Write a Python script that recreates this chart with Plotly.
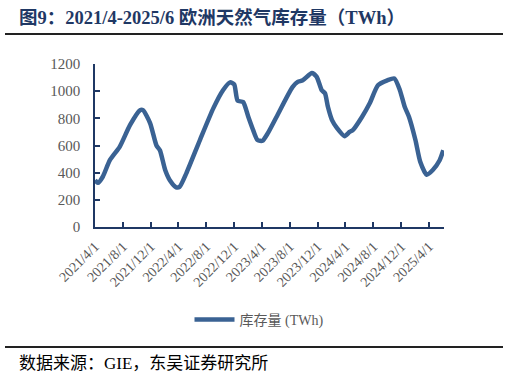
import plotly.graph_objects as go

dates = [
    "2021-04-01", "2021-04-14", "2021-05-05", "2021-06-05", "2021-07-18", "2021-09-01",
    "2021-10-15", "2021-10-28", "2021-11-28", "2021-12-26", "2022-01-10", "2022-02-02",
    "2022-02-24", "2022-03-22", "2022-04-06", "2022-05-06", "2022-07-04", "2022-09-01",
    "2022-10-13", "2022-11-13", "2022-12-01", "2022-12-16", "2023-01-09", "2023-02-01",
    "2023-02-22", "2023-03-13", "2023-04-04", "2023-04-27", "2023-06-04", "2023-08-13",
    "2023-09-05", "2023-09-27", "2023-11-06", "2023-11-27", "2023-12-19", "2024-01-02",
    "2024-01-15", "2024-02-02", "2024-02-24", "2024-03-28", "2024-04-19", "2024-05-03",
    "2024-06-12", "2024-07-16", "2024-08-21", "2024-10-01", "2024-11-01", "2024-11-25",
    "2024-12-16", "2025-01-04", "2025-02-01", "2025-02-22", "2025-03-22", "2025-04-18",
    "2025-05-18", "2025-06-03",
]
storage = [
    345, 325, 370, 492, 590, 750,
    860, 860, 765, 600, 565, 420,
    340, 292, 295, 397, 640, 875,
    1007, 1065, 1050, 930, 920, 810,
    713, 640, 635, 690, 810, 1030,
    1068, 1080, 1134, 1105, 1007, 985,
    885, 787, 728, 669, 700, 713,
    810, 911, 1044, 1080, 1093, 1007,
    885, 810, 640, 480, 385, 420,
    492, 565,
]
tick_vals = ["2021-04-01", "2021-08-01", "2021-12-01", "2022-04-01", "2022-08-01",
             "2022-12-01", "2023-04-01", "2023-08-01", "2023-12-01", "2024-04-01",
             "2024-08-01", "2024-12-01", "2025-04-01"]
tick_text = ["2021/4/1", "2021/8/1", "2021/12/1", "2022/4/1", "2022/8/1",
             "2022/12/1", "2023/4/1", "2023/8/1", "2023/12/1", "2024/4/1",
             "2024/8/1", "2024/12/1", "2025/4/1"]

W, H = 509, 382
L, R, T, B = 95, 65, 64, 155
pw, ph = W - L - R, H - T - B

def px(x):
    return (x - L) / pw

def py(y):
    return (H - B - y) / ph

serif = "Liberation Serif, Noto Sans CJK SC, serif"
axis_col = "#1F3864"
line_col = "#3A6293"

fig = go.Figure()
fig.add_trace(go.Scatter(
    x=dates, y=storage, mode="lines", name="库存量 (TWh)",
    line=dict(color=line_col, width=4.5, shape="spline", smoothing=0.6),
))

fig.update_layout(
    width=W, height=H,
    margin=dict(l=L, r=R, t=T, b=B, autoexpand=False),
    paper_bgcolor="white", plot_bgcolor="white",
    showlegend=True,
    legend=dict(orientation="h", x=px(259), xanchor="center", y=py(320), yanchor="middle",
                font=dict(family=serif, size=14, color="#595959"), itemwidth=40),
    xaxis=dict(
        type="date", range=["2021-04-01", "2025-06-06"], automargin=False,
        tickvals=tick_vals, ticktext=tick_text, tickangle=-45,
        showgrid=False, zeroline=False,
        showline=True, linecolor=axis_col, linewidth=1.5,
        ticks="inside", ticklen=5, tickcolor=axis_col, tickwidth=1.5,
        ticklabelstandoff=4,
        tickfont=dict(family=serif, size=14, color="#595959"),
    ),
    yaxis=dict(
        range=[0, 1200], tickvals=[0, 200, 400, 600, 800, 1000, 1200], automargin=False,
        showgrid=False, zeroline=False,
        showline=True, linecolor=axis_col, linewidth=1.5,
        ticks="inside", ticklen=5, tickcolor=axis_col, tickwidth=1.5,
        ticklabelstandoff=10,
        tickfont=dict(family=serif, size=15, color="#595959"),
    ),
    shapes=[
        dict(type="line", xref="paper", yref="paper", x0=px(5), x1=px(503),
             ysizemode="pixel", yanchor=py(34), y0=0, y1=0,
             line=dict(color="#222222", width=2)),
        dict(type="line", xref="paper", yref="paper", x0=px(5), x1=px(503),
             y0=py(347), y1=py(347), line=dict(color="#222222", width=2)),
    ],
    annotations=[
        dict(text="<b>图9：2021/4-2025/6 欧洲天然气库存量（TWh）</b>", xref="paper", yref="paper",
             x=px(17), y=py(17), xanchor="left", yanchor="middle", showarrow=False,
             font=dict(family="Liberation Serif, Noto Sans CJK SC, serif", size=18.5, color="#1F3864")),
        dict(text="数据来源：GIE，东吴证券研究所", xref="paper", yref="paper",
             x=px(17), y=py(363), xanchor="left", yanchor="middle", showarrow=False,
             font=dict(family=serif, size=17, color="#000000")),
        dict(text=" ", xref="paper", yref="paper", x=px(254), y=py(34),
             xanchor="center", yanchor="middle", showarrow=False,
             width=498, height=2, borderwidth=0, borderpad=0, bgcolor="#222222",
             font=dict(size=1)),
    ],
)

fig.write_html(
    "out.html",
    config={"displayModeBar": False},
    post_script="document.body.style.margin='0';document.body.style.overflow='hidden';",
)
